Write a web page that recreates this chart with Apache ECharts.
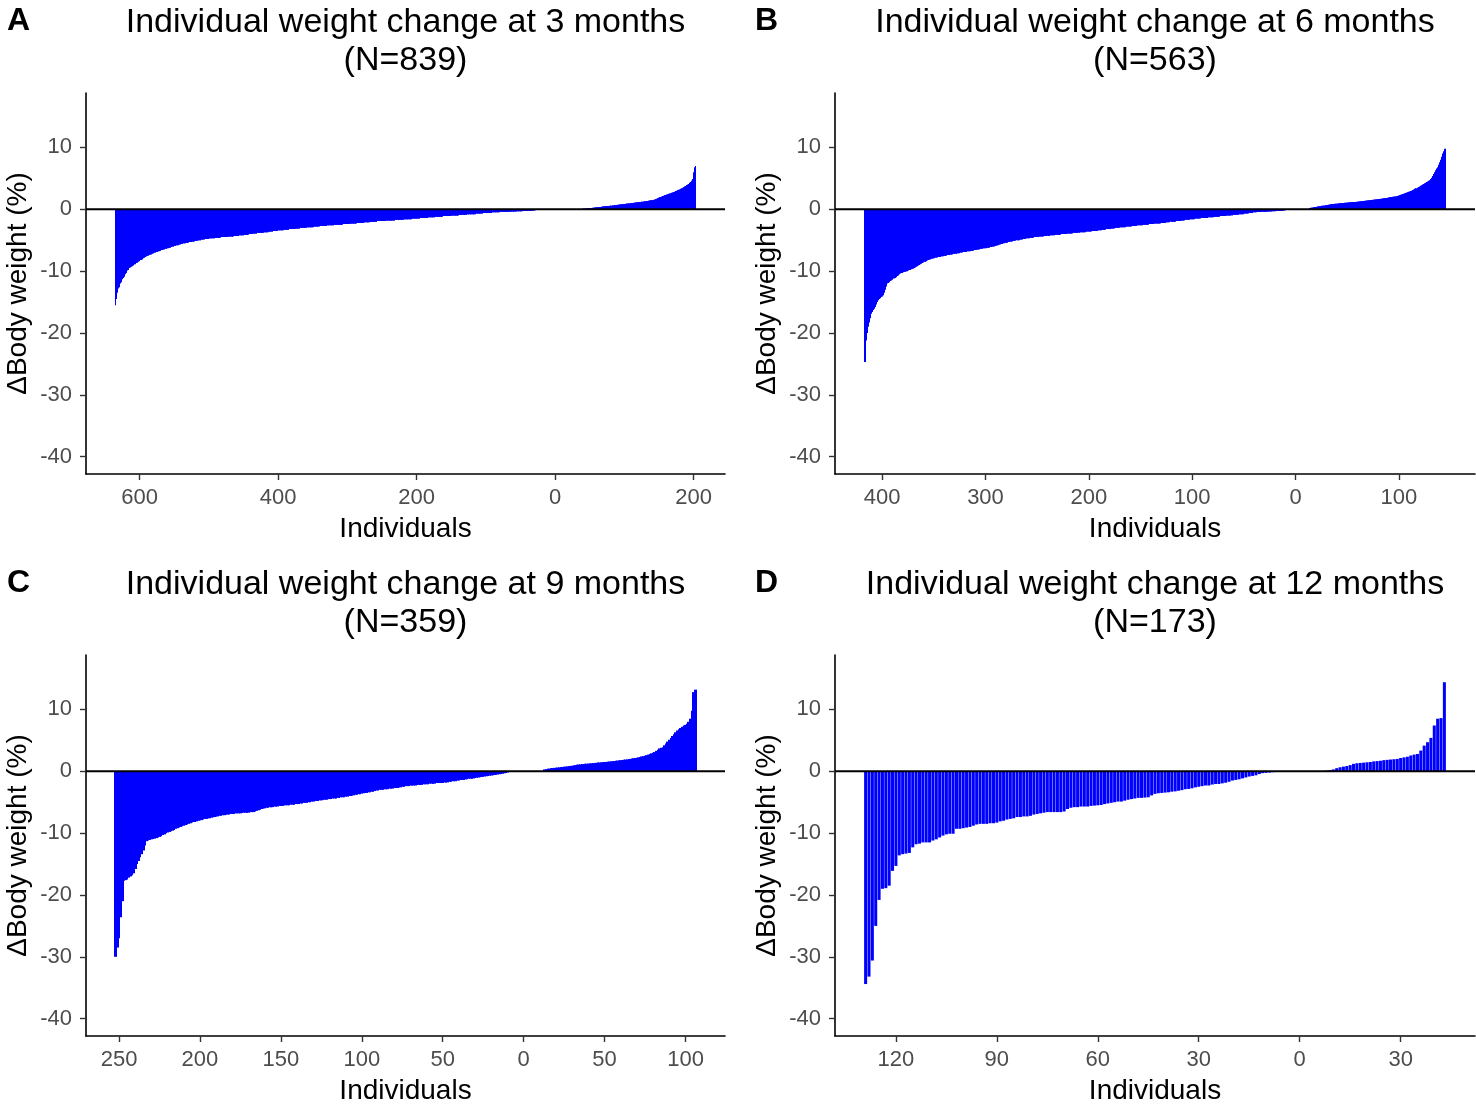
<!DOCTYPE html>
<html><head><meta charset="utf-8">
<script src="https://cdn.jsdelivr.net/npm/echarts@6/dist/echarts.min.js"></script>
<style>html,body{margin:0;padding:0;background:#fff}#chart{width:1476px;height:1108px}</style>
</head><body><div id="chart"></div>
<script>
const FONT = '"Liberation Sans", Arial, Helvetica, sans-serif';
const panelLetters = ['A', 'B', 'C', 'D'];
const panelTitles = ['Individual weight change at 3 months', 'Individual weight change at 6 months', 'Individual weight change at 9 months', 'Individual weight change at 12 months'];
const panelN = ['(N=839)', '(N=563)', '(N=359)', '(N=173)'];
const firstRanks = [-635, -417, -252, -129];
const xTicks3 = [-600, -400, -200, 0, 200];
const xTicks6 = [-400, -300, -200, -100, 0, 100];
const xTicks9 = [-250, -200, -150, -100, -50, 0, 50, 100];
const xTicks12 = [-120, -90, -60, -30, 0, 30];
const yTicks = [-40, -30, -20, -10, 0, 10];

const change3m = [
-15.5,-14.5,-13.5,-13.0,-12.8,-12.6,-12.3,-12.0,-11.8,-11.5,-11.3,-11.1,-10.9,-10.7,-10.5,-10.3,-10.1,-9.9,-9.8,-9.6,
-9.5,-9.4,-9.3,-9.3,-9.2,-9.1,-9.0,-8.9,-8.9,-8.8,-8.7,-8.6,-8.6,-8.5,-8.4,-8.3,-8.2,-8.2,-8.1,-8.0,
-7.9,-7.8,-7.8,-7.7,-7.6,-7.6,-7.5,-7.5,-7.4,-7.4,-7.3,-7.3,-7.2,-7.2,-7.1,-7.1,-7.0,-7.0,-7.0,-6.9,
-6.9,-6.8,-6.8,-6.8,-6.7,-6.7,-6.6,-6.6,-6.6,-6.5,-6.5,-6.4,-6.4,-6.4,-6.3,-6.3,-6.3,-6.2,-6.2,-6.2,
-6.1,-6.1,-6.0,-6.0,-6.0,-5.9,-5.9,-5.9,-5.8,-5.8,-5.8,-5.7,-5.7,-5.7,-5.6,-5.6,-5.6,-5.6,-5.5,-5.5,
-5.5,-5.5,-5.4,-5.4,-5.4,-5.4,-5.3,-5.3,-5.3,-5.3,-5.2,-5.2,-5.2,-5.2,-5.2,-5.1,-5.1,-5.1,-5.1,-5.0,
-5.0,-5.0,-5.0,-5.0,-4.9,-4.9,-4.9,-4.9,-4.9,-4.8,-4.8,-4.8,-4.8,-4.8,-4.8,-4.7,-4.7,-4.7,-4.7,-4.7,
-4.7,-4.7,-4.7,-4.7,-4.6,-4.6,-4.6,-4.6,-4.6,-4.6,-4.6,-4.6,-4.5,-4.5,-4.5,-4.5,-4.5,-4.5,-4.5,-4.5,
-4.5,-4.5,-4.4,-4.4,-4.4,-4.4,-4.4,-4.4,-4.4,-4.4,-4.4,-4.3,-4.3,-4.3,-4.3,-4.3,-4.3,-4.3,-4.2,-4.2,
-4.2,-4.2,-4.2,-4.2,-4.2,-4.2,-4.1,-4.1,-4.1,-4.1,-4.1,-4.1,-4.1,-4.0,-4.0,-4.0,-4.0,-4.0,-3.9,-3.9,
-3.9,-3.9,-3.9,-3.9,-3.9,-3.8,-3.8,-3.8,-3.8,-3.8,-3.8,-3.8,-3.8,-3.8,-3.7,-3.7,-3.7,-3.7,-3.7,-3.7,
-3.7,-3.6,-3.6,-3.6,-3.6,-3.6,-3.6,-3.6,-3.5,-3.5,-3.5,-3.5,-3.5,-3.5,-3.5,-3.4,-3.4,-3.4,-3.4,-3.4,
-3.4,-3.4,-3.4,-3.3,-3.3,-3.3,-3.3,-3.3,-3.3,-3.3,-3.3,-3.2,-3.2,-3.2,-3.2,-3.2,-3.2,-3.2,-3.2,-3.1,
-3.1,-3.1,-3.1,-3.1,-3.1,-3.1,-3.1,-3.0,-3.0,-3.0,-3.0,-3.0,-3.0,-3.0,-3.0,-3.0,-2.9,-2.9,-2.9,-2.9,
-2.9,-2.9,-2.9,-2.9,-2.9,-2.9,-2.8,-2.8,-2.8,-2.8,-2.8,-2.8,-2.8,-2.8,-2.8,-2.7,-2.7,-2.7,-2.7,-2.7,
-2.7,-2.7,-2.7,-2.7,-2.7,-2.6,-2.6,-2.6,-2.6,-2.6,-2.6,-2.6,-2.6,-2.6,-2.6,-2.6,-2.5,-2.5,-2.5,-2.5,
-2.5,-2.5,-2.5,-2.5,-2.5,-2.5,-2.5,-2.5,-2.4,-2.4,-2.4,-2.4,-2.4,-2.4,-2.4,-2.4,-2.4,-2.4,-2.3,-2.3,
-2.3,-2.3,-2.3,-2.3,-2.3,-2.3,-2.3,-2.3,-2.3,-2.2,-2.2,-2.2,-2.2,-2.2,-2.2,-2.2,-2.2,-2.2,-2.2,-2.1,
-2.1,-2.1,-2.1,-2.1,-2.1,-2.1,-2.1,-2.1,-2.0,-2.0,-2.0,-2.0,-2.0,-2.0,-2.0,-2.0,-2.0,-2.0,-1.9,-1.9,
-1.9,-1.9,-1.9,-1.9,-1.9,-1.9,-1.9,-1.9,-1.9,-1.9,-1.8,-1.8,-1.8,-1.8,-1.8,-1.8,-1.8,-1.8,-1.8,-1.8,
-1.8,-1.8,-1.8,-1.8,-1.7,-1.7,-1.7,-1.7,-1.7,-1.7,-1.7,-1.7,-1.7,-1.7,-1.7,-1.7,-1.6,-1.6,-1.6,-1.6,
-1.6,-1.6,-1.6,-1.6,-1.6,-1.6,-1.6,-1.6,-1.5,-1.5,-1.5,-1.5,-1.5,-1.5,-1.5,-1.5,-1.5,-1.5,-1.5,-1.5,
-1.4,-1.4,-1.4,-1.4,-1.4,-1.4,-1.4,-1.4,-1.4,-1.4,-1.4,-1.3,-1.3,-1.3,-1.3,-1.3,-1.3,-1.3,-1.3,-1.3,
-1.3,-1.3,-1.2,-1.2,-1.2,-1.2,-1.2,-1.2,-1.2,-1.2,-1.2,-1.2,-1.2,-1.1,-1.1,-1.1,-1.1,-1.1,-1.1,-1.1,
-1.1,-1.1,-1.1,-1.1,-1.1,-1.0,-1.0,-1.0,-1.0,-1.0,-1.0,-1.0,-1.0,-1.0,-1.0,-1.0,-0.9,-0.9,-0.9,-0.9,
-0.9,-0.9,-0.9,-0.9,-0.9,-0.9,-0.9,-0.9,-0.8,-0.8,-0.8,-0.8,-0.8,-0.8,-0.8,-0.8,-0.8,-0.8,-0.8,-0.8,
-0.7,-0.7,-0.7,-0.7,-0.7,-0.7,-0.7,-0.7,-0.7,-0.7,-0.7,-0.6,-0.6,-0.6,-0.6,-0.6,-0.6,-0.6,-0.6,-0.6,
-0.6,-0.6,-0.6,-0.5,-0.5,-0.5,-0.5,-0.5,-0.5,-0.5,-0.5,-0.5,-0.5,-0.5,-0.5,-0.4,-0.4,-0.4,-0.4,-0.4,
-0.4,-0.4,-0.4,-0.4,-0.4,-0.4,-0.39,-0.39,-0.38,-0.38,-0.37,-0.37,-0.36,-0.36,-0.35,-0.35,-0.35,-0.34,-0.34,-0.34,
-0.33,-0.33,-0.32,-0.32,-0.31,-0.31,-0.3,-0.3,-0.29,-0.29,-0.28,-0.28,-0.27,-0.27,-0.26,-0.26,-0.25,-0.25,-0.24,-0.24,
-0.23,-0.22,-0.21,-0.2,-0.19,-0.18,-0.16,-0.13,-0.1,-0.05,0,0,0,0,0,0,0,0,0,0,
0,0,0,0,0,0,0,0,0,0,0,0,0,0,0,0,0,0,0,0,
0,0,0,0,0,0,0,0,0,0,0,0,0,0,0,0,0,0,0,0,
0,0,0,0,0,0,0,0,0,0,0,0.02,0.04,0.05,0.06,0.07,0.08,0.09,0.1,0.11,
0.12,0.13,0.14,0.15,0.16,0.17,0.18,0.2,0.21,0.22,0.23,0.24,0.25,0.27,0.28,0.3,0.31,0.32,0.34,0.35,
0.37,0.38,0.4,0.41,0.43,0.44,0.45,0.47,0.48,0.5,0.51,0.52,0.53,0.55,0.56,0.57,0.58,0.59,0.6,0.62,
0.63,0.65,0.66,0.68,0.69,0.7,0.72,0.73,0.75,0.76,0.78,0.79,0.8,0.82,0.83,0.85,0.86,0.88,0.89,0.91,
0.92,0.93,0.94,0.95,0.97,0.98,1.0,1.01,1.03,1.04,1.06,1.07,1.09,1.1,1.12,1.13,1.15,1.16,1.18,1.19,
1.2,1.21,1.22,1.24,1.25,1.27,1.28,1.3,1.32,1.34,1.36,1.38,1.4,1.42,1.44,1.46,1.48,1.5,1.53,1.56,
1.6,1.65,1.7,1.75,1.8,1.85,1.9,1.95,2.0,2.05,2.1,2.14,2.18,2.22,2.26,2.3,2.34,2.38,2.42,2.46,
2.5,2.54,2.58,2.62,2.66,2.7,2.75,2.8,2.85,2.9,2.95,3.0,3.05,3.1,3.15,3.2,3.26,3.32,3.38,3.44,
3.5,3.57,3.63,3.7,3.78,3.86,3.94,4.02,4.1,4.2,4.3,4.4,4.5,4.6,4.9,5.2,6.0,6.8,7.0
];

const change6m = [
-24.7,-21.2,-20.0,-19.0,-18.3,-17.6,-16.9,-16.6,-16.3,-16.1,-15.8,-15.4,-15.0,-14.7,-14.5,-14.4,-14.2,-14.1,-13.9,-13.5,
-13.0,-12.5,-12.0,-11.9,-11.8,-11.6,-11.5,-11.4,-11.2,-11.1,-11.0,-10.8,-10.7,-10.5,-10.4,-10.3,-10.3,-10.2,-10.1,-10.1,
-10.0,-10.0,-9.9,-9.8,-9.8,-9.7,-9.6,-9.6,-9.5,-9.4,-9.3,-9.2,-9.1,-9.0,-8.9,-8.8,-8.7,-8.6,-8.5,-8.4,
-8.3,-8.2,-8.1,-8.1,-8.0,-8.0,-7.9,-7.9,-7.8,-7.8,-7.8,-7.7,-7.7,-7.7,-7.6,-7.6,-7.6,-7.5,-7.5,-7.5,
-7.4,-7.4,-7.4,-7.3,-7.3,-7.3,-7.2,-7.2,-7.2,-7.1,-7.1,-7.1,-7.0,-7.0,-7.0,-6.9,-6.9,-6.9,-6.9,-6.8,
-6.8,-6.8,-6.8,-6.7,-6.7,-6.7,-6.6,-6.6,-6.6,-6.5,-6.5,-6.5,-6.4,-6.4,-6.4,-6.3,-6.3,-6.3,-6.2,-6.2,
-6.2,-6.1,-6.1,-6.0,-6.0,-6.0,-5.9,-5.9,-5.8,-5.8,-5.7,-5.7,-5.6,-5.6,-5.5,-5.5,-5.4,-5.4,-5.4,-5.3,
-5.3,-5.2,-5.2,-5.2,-5.1,-5.1,-5.1,-5.0,-5.0,-5.0,-4.9,-4.9,-4.9,-4.8,-4.8,-4.8,-4.7,-4.7,-4.7,-4.7,
-4.6,-4.6,-4.6,-4.6,-4.5,-4.5,-4.5,-4.5,-4.5,-4.4,-4.4,-4.4,-4.4,-4.4,-4.3,-4.3,-4.3,-4.3,-4.3,-4.2,
-4.2,-4.2,-4.2,-4.2,-4.1,-4.1,-4.1,-4.1,-4.1,-4.1,-4.0,-4.0,-4.0,-4.0,-4.0,-4.0,-3.9,-3.9,-3.9,-3.9,
-3.9,-3.9,-3.8,-3.8,-3.8,-3.8,-3.8,-3.8,-3.7,-3.7,-3.7,-3.7,-3.7,-3.7,-3.6,-3.6,-3.6,-3.6,-3.6,-3.6,
-3.5,-3.5,-3.5,-3.5,-3.5,-3.5,-3.4,-3.4,-3.4,-3.4,-3.3,-3.3,-3.3,-3.3,-3.2,-3.2,-3.2,-3.2,-3.1,-3.1,
-3.1,-3.1,-3.0,-3.0,-3.0,-3.0,-3.0,-2.9,-2.9,-2.9,-2.9,-2.9,-2.9,-2.8,-2.8,-2.8,-2.8,-2.8,-2.8,-2.7,
-2.7,-2.7,-2.7,-2.7,-2.6,-2.6,-2.6,-2.6,-2.6,-2.5,-2.5,-2.5,-2.5,-2.5,-2.5,-2.4,-2.4,-2.4,-2.4,-2.4,
-2.3,-2.3,-2.3,-2.3,-2.3,-2.3,-2.3,-2.2,-2.2,-2.2,-2.2,-2.2,-2.1,-2.1,-2.1,-2.1,-2.0,-2.0,-2.0,-2.0,
-2.0,-1.9,-1.9,-1.9,-1.9,-1.9,-1.8,-1.8,-1.8,-1.8,-1.7,-1.7,-1.7,-1.7,-1.7,-1.6,-1.6,-1.6,-1.6,-1.6,
-1.5,-1.5,-1.5,-1.5,-1.5,-1.5,-1.4,-1.4,-1.4,-1.4,-1.4,-1.4,-1.3,-1.3,-1.3,-1.3,-1.3,-1.3,-1.2,-1.2,
-1.2,-1.2,-1.2,-1.2,-1.1,-1.1,-1.1,-1.1,-1.1,-1.1,-1.0,-1.0,-1.0,-1.0,-1.0,-1.0,-0.9,-0.9,-0.9,-0.9,
-0.9,-0.9,-0.8,-0.8,-0.8,-0.8,-0.8,-0.7,-0.7,-0.7,-0.7,-0.7,-0.6,-0.6,-0.6,-0.6,-0.5,-0.5,-0.5,-0.5,
-0.45,-0.45,-0.44,-0.44,-0.43,-0.42,-0.41,-0.4,-0.39,-0.38,-0.37,-0.36,-0.35,-0.34,-0.33,-0.32,-0.31,-0.3,-0.29,-0.28,
-0.27,-0.26,-0.25,-0.24,-0.23,-0.21,-0.18,-0.14,-0.08,0,0,0,0,0,0,0,0,0,0,0,
0,0,0,0,0,0,0,0,0,0,0,0.2,0.23,0.26,0.29,0.32,0.35,0.38,0.41,0.44,
0.47,0.5,0.53,0.56,0.59,0.62,0.65,0.68,0.71,0.74,0.77,0.8,0.82,0.84,0.86,0.88,0.9,0.91,0.93,0.95,
0.96,0.98,1.0,1.01,1.03,1.04,1.06,1.07,1.09,1.1,1.12,1.13,1.15,1.16,1.18,1.19,1.21,1.22,1.24,1.26,
1.28,1.3,1.33,1.35,1.37,1.39,1.41,1.43,1.45,1.47,1.49,1.51,1.53,1.55,1.57,1.59,1.61,1.63,1.65,1.67,
1.69,1.72,1.75,1.78,1.81,1.84,1.87,1.9,1.93,1.96,1.99,2.01,2.03,2.05,2.07,2.1,2.16,2.22,2.28,2.34,
2.4,2.46,2.52,2.58,2.64,2.7,2.76,2.82,2.88,2.94,3.0,3.1,3.2,3.3,3.4,3.5,3.6,3.7,3.8,3.9,
4.0,4.1,4.2,4.3,4.4,4.5,4.6,4.7,4.9,5.1,5.4,5.7,6.0,6.3,6.6,6.8,7.2,7.6,8.0,8.5,
9.0,9.4,9.8
];

const change9m = [
-30.0,-28.5,-27.0,-23.6,-21.0,-17.7,-17.6,-17.5,-17.2,-17.0,-16.8,-16.5,-15.8,-15.0,-14.5,-13.9,-13.4,-12.8,-12.0,-11.3,
-11.2,-11.1,-11.0,-10.9,-10.9,-10.8,-10.7,-10.6,-10.5,-10.3,-10.2,-10.0,-9.9,-9.8,-9.7,-9.6,-9.5,-9.3,-9.2,-9.1,
-9.0,-8.9,-8.8,-8.7,-8.6,-8.5,-8.4,-8.3,-8.2,-8.2,-8.1,-8.0,-7.9,-7.9,-7.8,-7.7,-7.7,-7.6,-7.6,-7.5,
-7.45,-7.4,-7.3,-7.3,-7.2,-7.2,-7.1,-7.1,-7.0,-7.0,-7.0,-6.9,-6.9,-6.9,-6.8,-6.8,-6.8,-6.8,-6.7,-6.7,
-6.7,-6.7,-6.7,-6.6,-6.6,-6.6,-6.5,-6.4,-6.3,-6.2,-6.1,-6.0,-6.0,-5.9,-5.9,-5.8,-5.8,-5.8,-5.7,-5.7,
-5.7,-5.6,-5.6,-5.6,-5.5,-5.5,-5.5,-5.5,-5.4,-5.4,-5.4,-5.3,-5.3,-5.3,-5.2,-5.2,-5.1,-5.1,-5.1,-5.0,
-5.0,-4.9,-4.9,-4.8,-4.8,-4.8,-4.7,-4.7,-4.6,-4.6,-4.6,-4.5,-4.5,-4.5,-4.4,-4.4,-4.4,-4.3,-4.3,-4.2,
-4.2,-4.2,-4.1,-4.1,-4.0,-4.0,-3.9,-3.9,-3.8,-3.8,-3.7,-3.7,-3.6,-3.55,-3.5,-3.5,-3.4,-3.4,-3.3,-3.3,
-3.2,-3.1,-3.1,-3.0,-3.0,-3.0,-2.9,-2.9,-2.9,-2.8,-2.8,-2.8,-2.7,-2.7,-2.7,-2.6,-2.6,-2.5,-2.5,-2.4,
-2.4,-2.4,-2.3,-2.3,-2.3,-2.3,-2.2,-2.2,-2.2,-2.2,-2.1,-2.1,-2.1,-2.1,-2.0,-2.0,-2.0,-2.0,-1.9,-1.9,
-1.9,-1.9,-1.9,-1.8,-1.8,-1.8,-1.7,-1.7,-1.6,-1.6,-1.6,-1.5,-1.5,-1.4,-1.4,-1.4,-1.3,-1.3,-1.2,-1.2,
-1.2,-1.15,-1.1,-1.05,-1.0,-0.96,-0.92,-0.88,-0.84,-0.8,-0.76,-0.72,-0.68,-0.64,-0.6,-0.56,-0.52,-0.48,-0.44,-0.4,
-0.32,-0.26,-0.2,-0.12,-0.05,0,0,0,0,0,0,0,0,0,0,0,0,0,0,0,
0,0,0,0,0,0.3,0.35,0.4,0.44,0.48,0.52,0.55,0.58,0.61,0.64,0.67,0.7,0.73,0.76,0.79,
0.82,0.86,0.9,0.95,1.0,1.05,1.1,1.12,1.15,1.17,1.2,1.22,1.25,1.27,1.3,1.32,1.35,1.37,1.4,1.42,
1.45,1.47,1.5,1.52,1.55,1.58,1.6,1.63,1.66,1.7,1.73,1.76,1.8,1.83,1.86,1.9,1.93,1.96,2.0,2.05,
2.1,2.15,2.2,2.25,2.3,2.4,2.45,2.5,2.6,2.7,2.8,2.9,3.0,3.1,3.3,3.5,3.7,3.8,3.9,4.2,
4.5,4.8,5.1,5.4,5.7,6.0,6.3,6.6,6.8,7.0,7.2,7.4,7.5,7.7,8.0,8.5,9.8,12.8,13.2
];

const change12m = [
-34.4,-33.2,-30.6,-25.0,-20.8,-19.0,-18.9,-18.5,-16.1,-15.3,-13.6,-13.4,-13.3,-13.2,-12.3,-11.8,-11.7,-11.5,-11.5,-11.5,
-11.2,-11.0,-10.7,-10.4,-10.2,-10.1,-10.1,-9.3,-9.3,-9.2,-9.1,-9.0,-8.8,-8.6,-8.5,-8.5,-8.5,-8.4,-8.4,-8.3,
-8.1,-8.0,-7.8,-7.7,-7.6,-7.4,-7.4,-7.3,-7.3,-7.2,-7.0,-6.9,-6.8,-6.7,-6.6,-6.6,-6.6,-6.6,-6.6,-6.5,
-6.1,-5.9,-5.8,-5.8,-5.7,-5.7,-5.7,-5.6,-5.55,-5.5,-5.45,-5.3,-5.2,-5.1,-5.0,-4.9,-4.9,-4.75,-4.6,-4.5,
-4.4,-4.3,-4.3,-4.25,-4.2,-3.9,-3.65,-3.55,-3.5,-3.45,-3.4,-3.3,-3.25,-3.15,-3.05,-2.9,-2.85,-2.75,-2.6,-2.5,
-2.4,-2.3,-2.3,-2.15,-2.05,-2.05,-1.95,-1.85,-1.7,-1.5,-1.4,-1.3,-1.15,-1.0,-0.85,-0.75,-0.65,-0.45,-0.3,-0.25,
-0.2,-0.15,-0.1,0,0,0,0,0,0,0,0,0,0,0,0,0,0,0.1,0.2,0.3,
0.5,0.65,0.75,0.85,1.0,1.2,1.3,1.35,1.4,1.45,1.5,1.6,1.65,1.7,1.8,1.85,1.9,1.95,2.0,2.15,
2.25,2.35,2.55,2.7,2.8,3.35,4.15,4.7,5.4,7.4,8.5,8.6,14.4
];

const panelData = [change3m, change6m, change9m, change12m];
const panelTicks = [xTicks3, xTicks6, xTicks9, xTicks12];

// layout (pixels) and axis ranges; snap = dense panels drawn pixel-aligned so they read as a solid fill
const layout = [
  {left: 86, top: 93, width: 639, height: 381, xMin: -677.4, xMax: 245.4, fill: 1.0, snap: true},
  {left: 835, top: 93, width: 640, height: 381, xMin: -445.6, xMax: 173.6, fill: 1.0, snap: true},
  {left: 86, top: 655, width: 639, height: 381, xMin: -270.4, xMax: 124.4, fill: 1.0, snap: true},
  {left: 835, top: 655, width: 640, height: 381, xMin: -138.1, xMax: 52.1, fill: 0.9, snap: false}
];
const Y_MIN = -42.8, Y_MAX = 18.8;

const chart = echarts.init(document.getElementById('chart'), null, {renderer: 'canvas'});

function makeRenderItem(L) {
  return function (params, api) {
    const x = api.value(0), y = api.value(1);
    if (!y) return null;
    const base = api.coord([x, 0]);
    const top = api.coord([x, y]);
    const w = api.size([1, 0])[0] * L.fill;
    let x0 = base[0] - w / 2, x1 = base[0] + w / 2;
    if (L.snap) { x0 = Math.floor(x0); x1 = Math.ceil(x1); }
    const y0 = Math.min(base[1], top[1]), y1 = Math.max(base[1], top[1]);
    return {
      type: 'rect',
      shape: {x: x0, y: y0, width: x1 - x0, height: y1 - y0},
      style: {fill: '#0000FF'}
    };
  };
}

const grid = [], xAxis = [], yAxis = [], series = [], graphic = [];
layout.forEach((L, i) => {
  grid.push({left: L.left, top: L.top, width: L.width, height: L.height, containLabel: false});
  xAxis.push({
    type: 'value', gridIndex: i, min: L.xMin, max: L.xMax,
    axisLine: {show: true, onZero: false, lineStyle: {color: '#000', width: 1.6}},
    axisTick: {show: true, length: 6, customValues: panelTicks[i], lineStyle: {color: '#333', width: 1.4}},
    axisLabel: {show: true, customValues: panelTicks[i], formatter: v => String(Math.abs(v)), color: '#4D4D4D', fontSize: 22, fontFamily: FONT, margin: 13},
    splitLine: {show: false},
    name: 'Individuals', nameLocation: 'middle', nameGap: 41,
    nameTextStyle: {fontSize: 28, color: '#000', fontFamily: FONT}
  });
  yAxis.push({
    type: 'value', gridIndex: i, min: Y_MIN, max: Y_MAX,
    axisLine: {show: true, onZero: false, lineStyle: {color: '#000', width: 1.6}},
    axisTick: {show: true, length: 6, customValues: yTicks, lineStyle: {color: '#333', width: 1.4}},
    axisLabel: {show: true, customValues: yTicks, color: '#4D4D4D', fontSize: 22, fontFamily: FONT, margin: 14},
    splitLine: {show: false},
    name: 'ΔBody weight (%)', nameLocation: 'middle', nameGap: 54,
    nameTextStyle: {fontSize: 28, color: '#000', fontFamily: FONT}
  });
  const vals = panelData[i];
  series.push({
    type: 'custom', xAxisIndex: i, yAxisIndex: i,
    data: vals.map((v, k) => [firstRanks[i] + k, v]),
    encode: {x: 0, y: 1},
    renderItem: makeRenderItem(L),
    clip: true,
    silent: true,
    animation: false,
    z: 2
  });
  // zero reference line
  series.push({
    type: 'line', xAxisIndex: i, yAxisIndex: i,
    data: [[L.xMin, 0], [L.xMax, 0]],
    symbol: 'none', silent: true, animation: false,
    lineStyle: {color: '#000', width: 2},
    z: 3
  });
  const cx = L.left + L.width / 2;
  const rowTop = L.top - 93;
  graphic.push({type: 'text', x: cx, y: rowTop + 23, style: {text: panelTitles[i], fontSize: 34, fontFamily: FONT, fill: '#000', align: 'center', verticalAlign: 'middle'}});
  graphic.push({type: 'text', x: cx, y: rowTop + 61, style: {text: panelN[i], fontSize: 34, fontFamily: FONT, fill: '#000', align: 'center', verticalAlign: 'middle'}});
  graphic.push({type: 'text', x: (i % 2 === 0) ? 7 : 755, y: rowTop + 21, style: {text: panelLetters[i], fontSize: 32, fontWeight: 'bold', fontFamily: FONT, fill: '#000', align: 'left', verticalAlign: 'middle'}});
});

chart.setOption({
  animation: false,
  backgroundColor: '#fff',
  grid, xAxis, yAxis, series, graphic
});
</script>
</body></html>
